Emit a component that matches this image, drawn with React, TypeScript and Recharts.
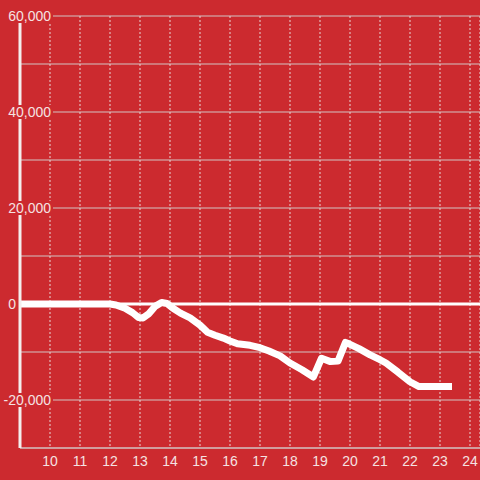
import React from "react";
import { LineChart, Line, XAxis, YAxis, CartesianGrid, ReferenceLine } from "recharts";

// hour of day vs. value
const hours = [9, 12, 12.2, 12.5, 12.75, 12.95, 13.1, 13.3, 13.5, 13.72, 13.9, 14.1, 14.35, 14.67, 15.0, 15.25, 15.5, 15.78, 16.0, 16.25, 16.67, 17.0, 17.3, 17.67, 18.0, 18.4, 18.78, 19.05, 19.35, 19.6, 19.85, 20.0, 20.3, 20.67, 21.0, 21.2, 21.6, 22.0, 22.3, 23.4];
const values = [0, 0, -200, -900, -1800, -2800, -2900, -2000, -500, 300, 100, -900, -1900, -2900, -4400, -5900, -6500, -7100, -7700, -8300, -8600, -9100, -9800, -10800, -12300, -13700, -15200, -11300, -12000, -11900, -8000, -8400, -9300, -10600, -11600, -12300, -14200, -16200, -17200, -17200];

const xTicks = [10, 11, 12, 13, 14, 15, 16, 17, 18, 19, 20, 21, 22, 23, 24];
const yTicks = [-30000, -20000, -10000, 0, 10000, 20000, 30000, 40000, 50000, 60000];
const yLabeled = [-20000, 0, 20000, 40000, 60000];

const BG = "#cc2a2f";
const TEXT = "#f5e2e2";
const FONT = "'Liberation Sans', Arial, sans-serif";

const data = hours.map((h, i) => ({ h, v: values[i] }));

const YTick = (props: any) => {
  const { y, payload } = props;
  const v = payload.value;
  if (!yLabeled.includes(v)) return <g />;
  const isZero = v === 0;
  const right = isZero ? 16 : 51;
  return (
    <g>
      <rect x={0} y={y - 7} width={isZero ? 17 : 53} height={14} fill={BG} />
      <text x={right} y={y + 5} textAnchor="end" fill={TEXT} fontSize={14} fontFamily={FONT}>
        {v.toLocaleString("en-US")}
      </text>
    </g>
  );
};

const XTick = (props: any) => {
  const { x, payload } = props;
  return (
    <text x={x} y={466} textAnchor="middle" fill={TEXT} fontSize={14} fontFamily={FONT}>
      {payload.value}
    </text>
  );
};

export default function App() {
  return (
    <div style={{ width: 480, height: 480, background: BG, position: "absolute", left: 0, top: 0 }}>
      <style>{`body{margin:0}`}</style>
      <LineChart width={480} height={480} data={data} margin={{ top: 16, right: 0, left: 0, bottom: 0 }}>
        <CartesianGrid horizontal={true} vertical={false} stroke="#d2c4c4" strokeWidth={1} />
        <CartesianGrid horizontal={false} vertical={true} stroke="#e8d6d6" strokeDasharray="2 2" />
        <XAxis
          type="number"
          dataKey="h"
          domain={[9, 24 + 1 / 3]}
          ticks={xTicks}
          tick={<XTick />}
          tickLine={false}
          axisLine={{ stroke: "#d2c4c4", strokeWidth: 1 }}
          height={32}
          allowDataOverflow
        />
        <YAxis
          type="number"
          domain={[-30000, 60000]}
          ticks={yTicks}
          tick={<YTick />}
          tickLine={false}
          axisLine={{ stroke: "#f4eeee", strokeWidth: 3 }}
          width={20}
          interval={0}
        />
        <ReferenceLine y={0} stroke="#ffffff" strokeWidth={3} />
        <Line
          type="linear"
          dataKey="v"
          stroke="#ffffff"
          strokeWidth={7}
          strokeLinejoin="round"
          dot={false}
          isAnimationActive={false}
        />
      </LineChart>
    </div>
  );
}
